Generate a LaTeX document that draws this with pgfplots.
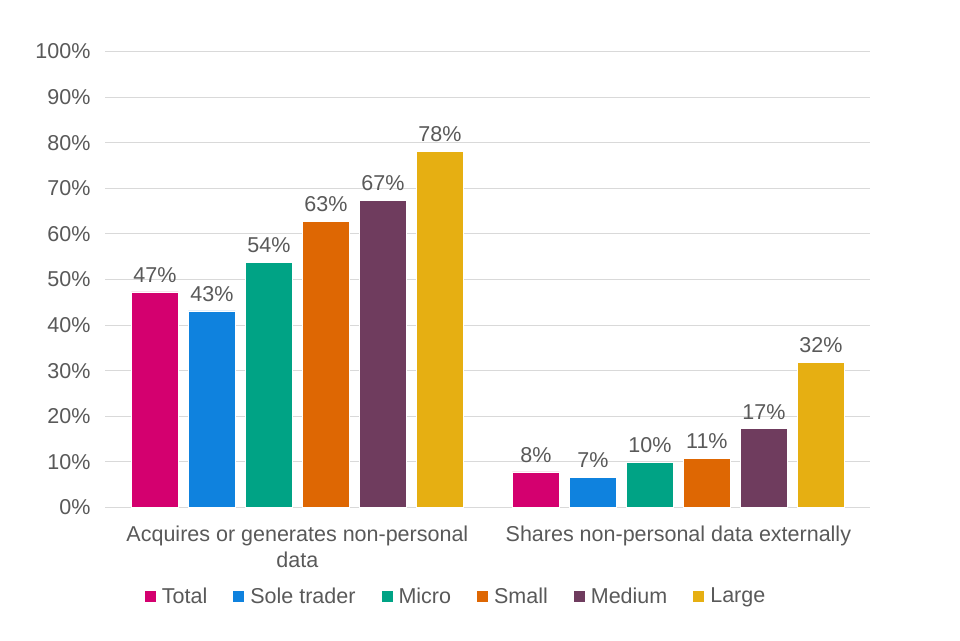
\documentclass[border=0pt]{standalone}
\usepackage{pgfplots}
\pgfplotsset{compat=1.18}
\usepackage{fontspec}
\setmainfont{Liberation Sans}
\definecolor{cTotal}{HTML}{D4006F}
\definecolor{cSole}{HTML}{0F82DE}
\definecolor{cMicro}{HTML}{00A385}
\definecolor{cSmall}{HTML}{DE6703}
\definecolor{cMedium}{HTML}{6F3C5E}
\definecolor{cLarge}{HTML}{E6AF12}
\definecolor{txt}{HTML}{595959}
\definecolor{grd}{HTML}{D9D9D9}
\begin{document}
\begin{tikzpicture}
\useasboundingbox (0,0) rectangle (960pt,640pt);
\begin{axis}[
  at={(105pt,132.5pt)}, anchor=south west,
  scale only axis, width=765pt, height=456pt,
  xmin=-0.505, xmax=1.503, ymin=0, ymax=100,
  ybar=10pt, bar width=47pt,
  xtick={0,1},
  xticklabels={{Acquires or generates non-personal\\data},{Shares non-personal data externally}},
  xticklabel style={align=center, text=txt, font=\fontsize{21.5}{26}\selectfont, yshift=-15pt},
  ytick={0,10,...,100},
  yticklabel={\pgfmathprintnumber{\tick}\%},
  yticklabel style={text=txt, font=\fontsize{21.5}{26}\selectfont, xshift=-11pt},
  /pgf/number format/assume math mode=true,
  ymajorgrids, grid style={grd, line width=0.9pt},
  axis line style={draw=none},
  extra y ticks={0}, extra y tick labels={}, extra y tick style={grid style={grd, line width=1.4pt}},
  major tick length=0pt,
  nodes near coords={\pgfmathprintnumber[fixed,precision=0]{\pgfplotspointmeta}\%},
  nodes near coords style={text=txt, font=\fontsize{21.5}{26}\selectfont, inner sep=9pt, /pgf/number format/assume math mode=true},
  legend style={at={(0.459,-0.194)}, anchor=center, draw=none, fill=none,
    legend columns=-1, font=\fontsize{21.5}{26}\selectfont, text=txt,
    /tikz/every odd column/.append style={column sep=4pt},
    /tikz/every even column/.append style={column sep=24pt}},
  legend image code/.code={\fill[#1, draw=none] (0pt,-6pt) rectangle (11pt,5pt);},
  legend cell align=left,
]
\addplot[fill=cTotal, draw=white, line width=0.6pt] coordinates {(0,47.3) (1,7.8)};
\addplot[fill=cSole, draw=white, line width=0.6pt] coordinates {(0,43.1) (1,6.6)};
\addplot[fill=cMicro, draw=white, line width=0.6pt] coordinates {(0,53.8) (1,9.9)};
\addplot[fill=cSmall, draw=white, line width=0.6pt] coordinates {(0,62.8) (1,10.8)};
\addplot[fill=cMedium, draw=white, line width=0.6pt] coordinates {(0,67.4) (1,17.3)};
\addplot[fill=cLarge, draw=white, line width=0.6pt] coordinates {(0,78.1) (1,31.9)};
\legend{Total,Sole trader,Micro,Small,Medium,Large}
\end{axis}
\end{tikzpicture}
\end{document}
